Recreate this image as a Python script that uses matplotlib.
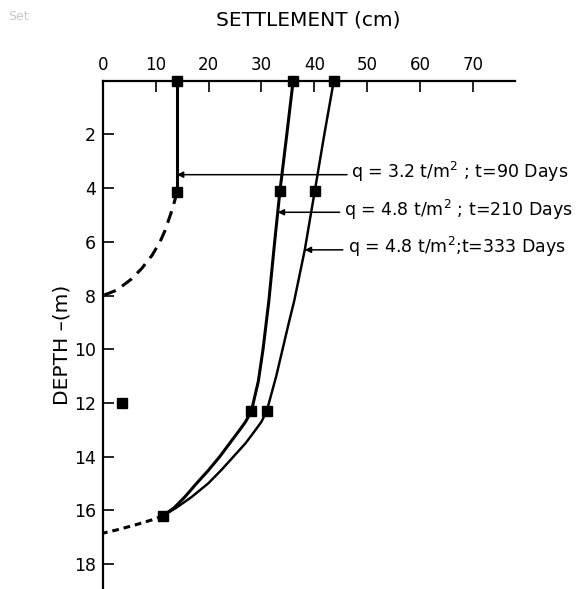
import numpy as np
import matplotlib
matplotlib.use('Agg')
import matplotlib.pyplot as plt

# settlement (cm) vs depth (m)
d_90 = [0, 4.15]
s_90 = [14, 14]
d_90_ext = [4.15, 4.45, 4.8, 5.2, 5.6, 6.0, 6.5, 7.0, 7.4, 7.8, 8.0]
s_90_ext = [14, 13.6, 13.1, 12.4, 11.7, 10.8, 9.3, 7.3, 5.3, 2.6, 0]

d_210 = [0, 2, 4.1, 6, 8.2, 10, 11.2, 12.3, 12.7, 13, 13.5, 14, 14.5, 15, 15.5, 15.9, 16.2]
s_210 = [36, 34.8, 33.5, 32.5, 31.4, 30.3, 29.4, 28.1, 27.0, 25.9, 24.0, 22.1, 20.0, 17.7, 15.5, 13.5, 11.4]

d_333 = [0, 2, 4.1, 6.3, 8.2, 9, 10, 11, 12.3, 12.7, 13, 13.5, 14, 14.5, 15, 15.5, 15.9, 16.2]
s_333 = [43.7, 41.9, 40.1, 38.2, 36.2, 35.2, 34.0, 32.8, 31.0, 30.0, 28.9, 27.0, 24.7, 22.4, 19.9, 16.8, 13.9, 11.4]

d_ext = [16.2, 16.36, 16.55, 16.73, 16.85]
s_ext = [11.4, 9.2, 6.0, 2.6, 0]

# measured points (markers)
mk_90_d, mk_90_s = [0, 4.15], [14, 14]
mk_210_d, mk_210_s = [0, 4.1, 12.3, 16.2], [36, 33.5, 28.1, 11.4]
mk_333_d, mk_333_s = [0, 4.1, 12.3], [43.7, 40.1, 31.0]
mk_lone_d, mk_lone_s = [12.0], [3.6]

labels = ['q = 3.2 t/m$^2$ ; t=90 Days',
          'q = 4.8 t/m$^2$ ; t=210 Days',
          'q = 4.8 t/m$^2$;t=333 Days']
label_depths = [3.5, 4.9, 6.3]

plt.rcParams['font.family'] = ['DejaVu Sans']

fig = plt.figure(figsize=(5.81, 5.89), dpi=100)
ax = fig.add_axes([103 / 581, 0, 412 / 581, (589 - 80.7) / 589])

lw = 2.2
ms = 7
ax.plot(s_90, d_90, color='black', lw=lw)
ax.plot(s_90_ext, d_90_ext, color='black', lw=lw, dashes=(4, 2.5))
ax.plot(s_210, d_210, color='black', lw=lw)
ax.plot(s_333, d_333, color='black', lw=lw * 0.8)
ax.plot(s_ext, d_ext, color='black', lw=lw, dashes=(2.2, 1.6))

for s, d in [(mk_90_s, mk_90_d), (mk_210_s, mk_210_d),
             (mk_333_s, mk_333_d), (mk_lone_s, mk_lone_d)]:
    ax.plot(s, d, ls='none', marker='s', ms=ms, color='black', clip_on=False)

curves = [(d_90, s_90), (d_210, s_210), (d_333, s_333)]
text_x = [47.0, 45.6, 46.3]
arrow_start = [46.2, 44.8, 45.4]
for (dd, ss), lab, dep, tx, ax0 in zip(curves, labels, label_depths, text_x, arrow_start):
    target = np.interp(dep, dd, ss)
    ax.annotate('', xy=(target, dep), xytext=(ax0, dep),
                arrowprops=dict(arrowstyle='-|>', lw=1.1, color='black',
                                mutation_scale=9, shrinkA=0, shrinkB=0))
    ax.text(tx, dep - 0.1, lab, fontsize=12.5, va='center', ha='left')

ax.set_xlim(0, 78)
ax.set_ylim(18.93, 0)
ax.xaxis.tick_top()
ax.set_xticks(range(0, 80, 10))
ax.set_yticks(range(2, 20, 2))
ax.tick_params(axis='x', direction='in', length=8, width=1.2, pad=5, labelsize=12)
ax.tick_params(axis='y', direction='in', length=8, width=1.2, pad=5, labelsize=12.5)
for sp in ['right', 'bottom']:
    ax.spines[sp].set_visible(False)
for sp in ['top', 'left']:
    ax.spines[sp].set_linewidth(1.6)

ax.set_ylabel('DEPTH \u2013(m)', fontsize=14.5)
ax.yaxis.set_label_coords(-32 / 412, (589 - 345) / 508.3)

fig.text(308.5 / 581, 1 - 20.5 / 589, 'SETTLEMENT (cm)', fontsize=14.5,
         ha='center', va='center')
fig.text(8 / 581, 1 - 16 / 589, 'Set', fontsize=9, color='#c8c8c8',
         ha='left', va='center')

fig.savefig('out.png', dpi=100)
